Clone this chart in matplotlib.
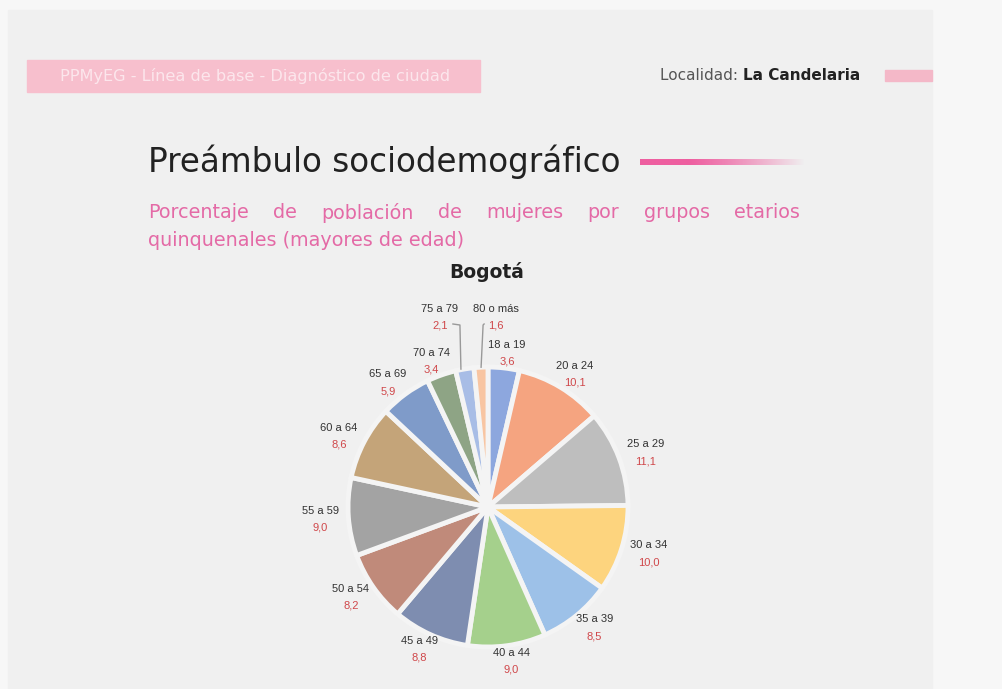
import numpy as np
import matplotlib
matplotlib.use('Agg')
import matplotlib.pyplot as plt
from matplotlib.patches import Rectangle

# datos: porcentaje de mujeres por grupo etario (Bogotá)
grupos = ['18 a 19', '20 a 24', '25 a 29', '30 a 34', '35 a 39', '40 a 44', '45 a 49',
          '50 a 54', '55 a 59', '60 a 64', '65 a 69', '70 a 74', '75 a 79', '80 o más']
valores = [3.6, 10.1, 11.1, 10.0, 8.5, 9.0, 8.8, 8.2, 9.0, 8.6, 5.9, 3.4, 2.1, 1.6]
colores = ['#8DA7DE', '#F5A480', '#BEBEBE', '#FDD47E', '#9DC1E8', '#A5D08C', '#7E8DB0',
           '#C08A7A', '#A3A3A3', '#C4A479', '#7F9BC9', '#8EA485', '#A8BDE6', '#F8C5A2']

W, H = 1002, 689
fig = plt.figure(figsize=(W / 100, H / 100), dpi=100, facecolor='#F7F7F7')
ax = fig.add_axes([0, 0, 1, 1])
ax.set_xlim(0, W)
ax.set_ylim(H, 0)
ax.axis('off')
rend = fig.canvas.get_renderer()

def ancho(t):
    return t.get_window_extent(rend).width

# fondo de la diapositiva
ax.add_patch(Rectangle((8, 10), 924, 690, color='#F0F0F0', zorder=0))

# encabezado
ax.add_patch(Rectangle((27, 60), 453, 32, color='#F7BFCD', zorder=1))
ax.text(60, 76, 'PPMyEG - Línea de base - Diagnóstico de ciudad', color='#FCE6EC',
        fontsize=11.6, family='DejaVu Sans', va='center', ha='left', zorder=2)
t = ax.text(660, 76, 'Localidad: ', color='#555555', fontsize=11, family='DejaVu Sans',
            va='center', ha='left')
ax.text(660 + ancho(t), 76, 'La Candelaria', color='#222222', fontsize=11,
        family='DejaVu Sans', weight='bold', va='center', ha='left')
ax.add_patch(Rectangle((885, 70), 47, 11, color='#F4B8C8', zorder=1))

# título
ax.text(148, 162, 'Preámbulo sociodemográfico', color='#222222', fontsize=23.5,
        family='DejaVu Sans', va='center', ha='left')
grad = np.zeros((1, 256, 4))
c = matplotlib.colors.to_rgb('#EE5FA0')
grad[0, :, 0], grad[0, :, 1], grad[0, :, 2] = c
grad[0, :, 3] = np.clip(1.2 - np.linspace(0, 1, 256) ** 1.5 * 1.2, 0, 1)
ax.imshow(grad, extent=(640, 805, 165, 159), aspect='auto', zorder=2)

# subtítulo (primera línea justificada)
rosa = '#E46AA6'
palabras = 'Porcentaje de población de mujeres por grupos etarios'.split()
textos = [ax.text(0, 213, p, color=rosa, fontsize=13.8, family='DejaVu Sans',
                  va='center', ha='left') for p in palabras]
anchos = [ancho(tx) for tx in textos]
hueco = (800 - 148 - sum(anchos)) / (len(palabras) - 1)
x = 148
for tx, a in zip(textos, anchos):
    tx.set_x(x)
    x += a + hueco
ax.text(148, 240, 'quinquenales (mayores de edad)', color=rosa, fontsize=13.8,
        family='DejaVu Sans', va='center', ha='left')

ax.text(487, 272, 'Bogotá', color='#222222', fontsize=13.5, family='DejaVu Sans',
        weight='bold', va='center', ha='center')

# torta
cx, cy, R = 488, 507, 140
wedges, _ = ax.pie(valores, colors=colores, center=(cx, cy), radius=R,
                   startangle=-90, counterclock=True, frame=True,
                   wedgeprops=dict(edgecolor='#F4F4F4', linewidth=3.5))
ax.set_xlim(0, W)
ax.set_ylim(H, 0)
ax.axis('off')

rojo = '#D0474A'
fuente = ['Liberation Sans Narrow', 'Liberation Sans']
acum = np.cumsum([0] + valores[:-1])
for i, (g, v) in enumerate(zip(grupos, valores)):
    ang = np.deg2rad(90 - (acum[i] + v / 2) * 3.6)
    if g in ('75 a 79', '80 o más'):
        ex, ey = cx + R * np.cos(ang), cy - R * np.sin(ang)
        if g == '75 a 79':
            lx, ly = ex - 24, 317
            ax.plot([lx + 13, ex - 4, ex - 3], [ly + 7, ly + 8, ey], color='#999999', lw=1)
        else:
            lx, ly = ex + 16, 317
            ax.plot([lx - 12, ex + 3, ex + 1], [ly + 7, ly + 8, ey], color='#999999', lw=1)
    else:
        lx, ly = cx + 1.2 * R * np.cos(ang), cy - 1.11 * R * np.sin(ang)
    ax.text(lx, ly - 8, g, color='#333333', fontsize=8, family=fuente, ha='center', va='center')
    ax.text(lx, ly + 9, ('%.1f' % v).replace('.', ','), color=rojo, fontsize=8,
            family=fuente, ha='center', va='center')

fig.savefig('out.png', dpi=100, facecolor=fig.get_facecolor())
